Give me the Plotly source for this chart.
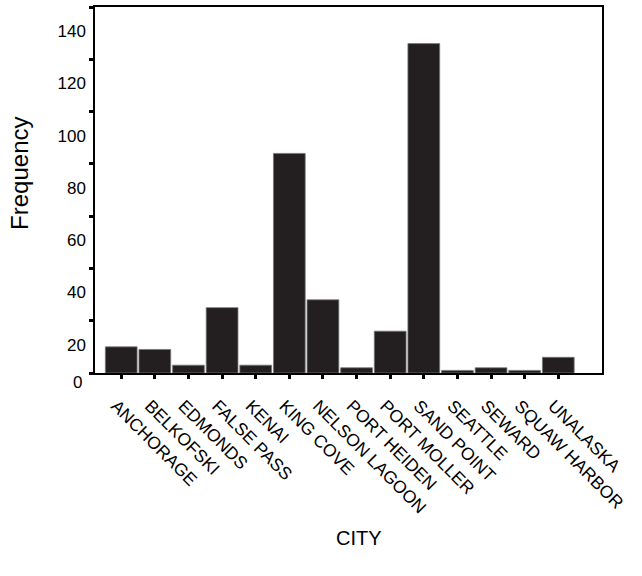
import plotly.graph_objects as go

cities = ["ANCHORAGE", "BELKOFSKI", "EDMONDS", "FALSE PASS", "KENAI", "KING COVE",
          "NELSON LAGOON", "PORT HEIDEN", "PORT MOLLER", "SAND POINT", "SEATTLE",
          "SEWARD", "SQUAW HARBOR", "UNALASKA"]
frequency = [10, 9, 3, 25, 3, 84, 28, 2, 16, 126, 1, 2, 1, 6]
y_ticks = [0, 20, 40, 60, 80, 100, 120, 140]
y_ticktext = ["", "20", "40", "60", "80", "100", "120", "140"]

FONT = "Liberation Sans, Arial, sans-serif"

fig = go.Figure()
fig.add_trace(go.Bar(
    x=list(range(len(cities))),
    y=frequency,
    marker=dict(color="#231f20", line=dict(width=0.8, color="#777777")),
    hoverinfo="skip",
))

fig.update_layout(
    width=642, height=576,
    margin=dict(l=95, r=40, t=7, b=203, autoexpand=False),
    plot_bgcolor="white", paper_bgcolor="white",
    bargap=0.055,
    showlegend=False,
    font=dict(family=FONT, color="black"),
    xaxis=dict(
        range=[-0.78, 14.3],
        tickmode="array",
        tickvals=list(range(len(cities))),
        ticktext=cities,
        tickangle=45,
        tickfont=dict(size=17.5, family=FONT),
        ticklabelshift=-5,
        ticklabelstandoff=10,
        ticks="outside", ticklen=4, tickwidth=3, tickcolor="black",
        showline=True, linecolor="black", linewidth=1.5, mirror=True,
        showgrid=False, zeroline=False, automargin=False,
    ),
    yaxis=dict(
        range=[0, 140],
        tickmode="array",
        tickvals=y_ticks,
        ticktext=y_ticktext,
        tickfont=dict(size=17, family=FONT),
        ticklabelshift=24,
        ticks="outside", ticklen=4, tickwidth=3, tickcolor="black",
        showline=True, linecolor="black", linewidth=1.5, mirror=True,
        showgrid=False, zeroline=False, automargin=False,
    ),
    annotations=[
        dict(text="0", xref="paper", yref="y", x=0, y=0, xanchor="right",
             yanchor="middle", xshift=-11, yshift=-9, showarrow=False,
             font=dict(size=17, family=FONT)),
        dict(text="Frequency", xref="paper", yref="paper", x=0, y=0.544,
             xanchor="center", yanchor="middle", xshift=-75, textangle=-90,
             showarrow=False, font=dict(size=24, family=FONT)),
        dict(text="CITY", xref="paper", yref="paper", x=0.52, y=0,
             xanchor="center", yanchor="middle", yshift=-165,
             showarrow=False, font=dict(size=20, family=FONT)),
    ],
)

fig.write_html("out.html", config={"displayModeBar": False},
               post_script="document.body.style.margin='0';")
